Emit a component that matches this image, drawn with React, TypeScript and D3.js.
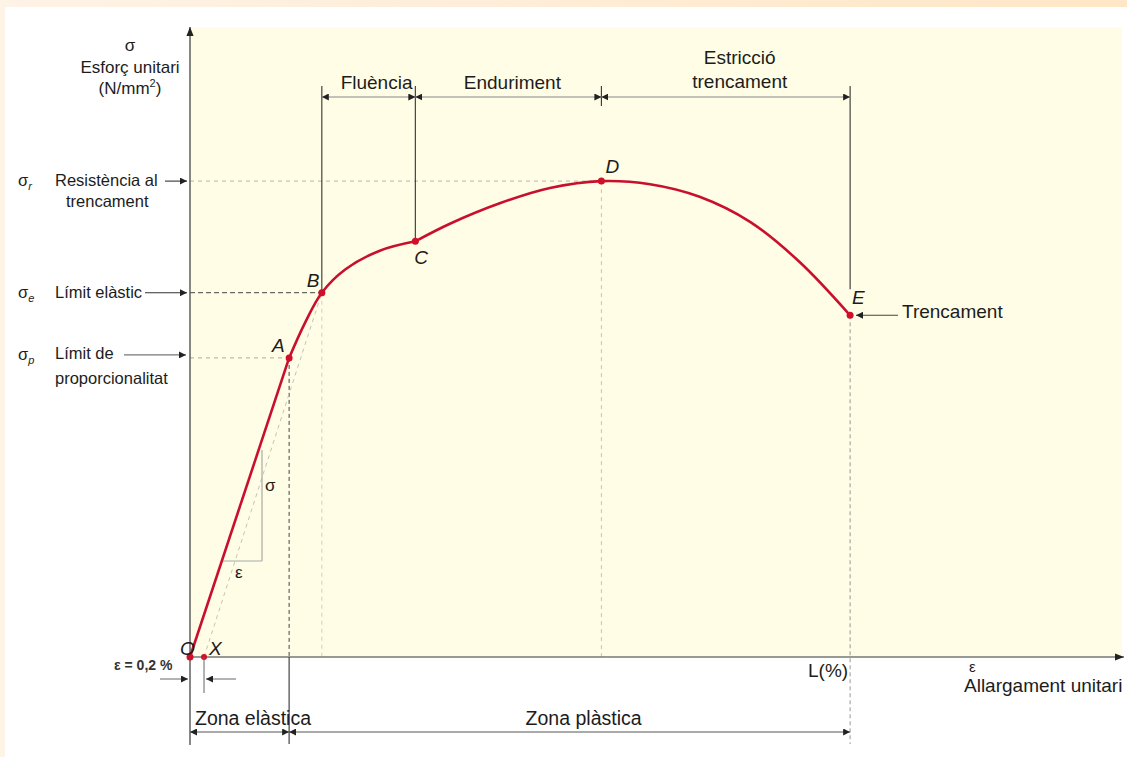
import * as d3 from 'd3';

// stress–strain curve (arbitrary units 0-100)
const strain = [0, 10.6, 12.3, 14.1, 16.6, 20.3, 24.1, 27.8, 33.2, 38.5, 44, 49.2, 54.5, 59.9, 65.2, 70.6];
const stress = [0, 47.7, 53.3, 58.1, 61.8, 64.8, 66.3, 69.1, 72.4, 74.8, 75.9, 75.4, 73.4, 69.4, 63.0, 54.5];

// named points on the curve (index into the arrays above)
const pointNames = ['O', 'A', 'B', 'C', 'D', 'E'];
const pointIdx = [0, 1, 3, 6, 10, 15];
const offsetStrain = 1.5; // X, ε = 0,2 %

const zones = ['Zona elàstica', 'Zona plàstica'];
const phases = ['Fluència', 'Enduriment', 'Estricció trencament'];

const W = 1127;
const H = 757;
const x = d3.scaleLinear().domain([0, 100]).range([190, 1125]);
const y = d3.scaleLinear().domain([0, 100]).range([657, 30]);

const FONT = '"Liberation Sans", Arial, sans-serif';
const INK = '#1c1c1c';

type P = [number, number];
const pts: P[] = strain.map((s, i) => [s, stress[i]]);

const lineStraight = d3.line<P>().x(d => x(d[0])).y(d => y(d[1]));
const lineCurve = d3.line<P>().x(d => x(d[0])).y(d => y(d[1])).curve(d3.curveCatmullRom.alpha(0.5));

export default function App() {
  const [xO, xA, xB, xC, xD, xE] = pointIdx.map(i => x(strain[i]));
  const [, yA, yB, yC, yD, yE] = pointIdx.map(i => y(stress[i]));
  const y0 = y(0);
  const xX = x(offsetStrain);
  const topY = 97;
  const botY = 732;

  const labelOffsets: Record<string, P> = {
    O: [-10, -2], A: [-17, -6], B: [-15, -6], C: [-1, 23], D: [4, -8], E: [2, -11],
  };

  return (
    <svg width={W} height={H} style={{ position: 'absolute', left: 0, top: 0 }} fontFamily={FONT}>
      <defs>
        <linearGradient id="frame" x1="0" x2="1" y1="0" y2="0">
          <stop offset="0" stopColor="#fdf3e6" />
          <stop offset="1" stopColor="#ffe6c6" />
        </linearGradient>
        <marker id="ah" viewBox="0 0 10 10" refX="10" refY="5" markerWidth="7" markerHeight="7"
          markerUnits="userSpaceOnUse" orient="auto-start-reverse">
          <path d="M0,0L10,5L0,10z" fill="#222" />
        </marker>
        <marker id="axh" viewBox="0 0 10 10" refX="10" refY="5" markerWidth="9" markerHeight="9"
          markerUnits="userSpaceOnUse" orient="auto">
          <path d="M0,1L10,5L0,9z" fill="#222" />
        </marker>
      </defs>

      <rect width={W} height={H} fill="url(#frame)" />
      <rect x={5} y={7} width={W - 5} height={H - 7} fill="#ffffff" />
      <rect x={190} y={27} width={932} height={y0 - 27} fill="#fffde6" />

      {/* guide lines */}
      <g fill="none">
        <line x1={xO} x2={xD} y1={yD} y2={yD} stroke="#b5b5a5" strokeDasharray="4 4" />
        <line x1={xO} x2={xB} y1={yB} y2={yB} stroke="#444" strokeDasharray="5 3" />
        <line x1={xO} x2={xA} y1={yA} y2={yA} stroke="#aaa" strokeDasharray="4 4" />
        <line x1={xA} x2={xA} y1={yA} y2={y0} stroke="#444" strokeDasharray="4 3" />
        <line x1={xB} x2={xB} y1={yB} y2={y0} stroke="#d0d0c0" strokeDasharray="4 4" />
        <line x1={xD} x2={xD} y1={yD} y2={y0} stroke="#c8c8b8" strokeDasharray="4 4" />
        <line x1={xE} x2={xE} y1={yE} y2={botY + 12} stroke="#999" strokeDasharray="4 3" />
        <line x1={xX} x2={xB} y1={y0} y2={yB} stroke="#c4c4b4" strokeDasharray="4 4" />
        {/* slope triangle */}
        <line x1={262} x2={262} y1={450} y2={561} stroke="#aaa" strokeWidth={1.2} />
        <line x1={222} x2={262} y1={561} y2={561} stroke="#aaa" strokeWidth={1.2} />
      </g>
      <text x={265} y={491} fontSize={17} fill={INK}>σ</text>
      <text x={235} y={578} fontSize={17} fill={INK}>ε</text>

      {/* axes */}
      <line x1={xO} x2={xO} y1={botY + 13} y2={27} stroke="#555" strokeWidth={1.4} markerEnd="url(#axh)" />
      <line x1={xO} x2={1124} y1={y0} y2={y0} stroke="#777" strokeWidth={1.4} markerEnd="url(#axh)" />

      {/* top phase brackets */}
      <g stroke="#333" strokeWidth={1.1}>
        <line x1={xB} x2={xB} y1={86} y2={yB} />
        <line x1={xC} x2={xC} y1={86} y2={yC} />
        <line x1={xD} x2={xD} y1={86} y2={106} />
        <line x1={xE} x2={xE} y1={86} y2={yE - 26} />
        <line x1={xB} x2={xC} y1={topY} y2={topY} markerStart="url(#ah)" markerEnd="url(#ah)" stroke="#888" />
        <line x1={xC} x2={xD} y1={topY} y2={topY} markerStart="url(#ah)" markerEnd="url(#ah)" stroke="#888" />
        <line x1={xD} x2={xE} y1={topY} y2={topY} markerStart="url(#ah)" markerEnd="url(#ah)" stroke="#888" />
      </g>
      <g fontSize={19} fill={INK} textAnchor="middle">
        <text x={(xB + xC) / 2 + 8} y={89}>{phases[0]}</text>
        <text x={(xC + xD) / 2 + 4} y={89}>{phases[1]}</text>
        <text x={(xD + xE) / 2 + 14} y={64}>{phases[2].split(' ')[0]}</text>
        <text x={(xD + xE) / 2 + 14} y={88}>{phases[2].split(' ')[1]}</text>
      </g>

      {/* y-axis title */}
      <g fontSize={17} fill={INK} textAnchor="middle">
        <text x={130} y={51}>σ</text>
        <text x={130} y={73}>Esforç unitari</text>
        <text x={130} y={94}>(N/mm<tspan fontSize={11} dy={-7}>2</tspan><tspan dy={7}>)</tspan></text>
      </g>

      {/* left stress labels */}
      <g fontSize={16.5} fill={INK}>
        <text x={18} y={yD + 5}>σ<tspan fontSize={11} fontStyle="italic" dy={4}>r</tspan></text>
        <text x={55} y={yD + 5}>Resistència al</text>
        <text x={66} y={yD + 26}>trencament</text>
        <text x={18} y={yB + 5}>σ<tspan fontSize={11} fontStyle="italic" dy={4}>e</tspan></text>
        <text x={55} y={yB + 5}>Límit elàstic</text>
        <text x={18} y={yA + 2}>σ<tspan fontSize={11} fontStyle="italic" dy={4}>p</tspan></text>
        <text x={55} y={yA + 1}>Límit de</text>
        <text x={55} y={yA + 26}>proporcionalitat</text>
      </g>
      <g stroke="#333" strokeWidth={1.1}>
        <line x1={165} x2={187} y1={yD} y2={yD} markerEnd="url(#ah)" />
        <line x1={145} x2={187} y1={yB} y2={yB} markerEnd="url(#ah)" />
        <line x1={124} x2={186} y1={yA - 3} y2={yA - 3} markerEnd="url(#ah)" stroke="#777" />
      </g>

      {/* curve */}
      <g fill="none" stroke="#c8102e" strokeWidth={2.6} strokeLinejoin="round">
        <path d={lineStraight(pts.slice(0, 2)) ?? ''} />
        <path d={lineCurve(pts.slice(1, 7)) ?? ''} />
        <path d={lineCurve(pts.slice(6)) ?? ''} />
      </g>
      {pointIdx.map((i, k) => (
        <circle key={k} cx={x(strain[i])} cy={y(stress[i])} r={3.5} fill="#d0102a" />
      ))}
      <circle cx={xX} cy={y0} r={3} fill="#d0102a" />
      <g fontSize={19} fontStyle="italic" fill={INK}>
        {pointIdx.map((i, k) => (
          <text key={k} x={x(strain[i]) + labelOffsets[pointNames[k]][0]} y={y(stress[i]) + labelOffsets[pointNames[k]][1]}>
            {pointNames[k]}
          </text>
        ))}
        <text x={xX + 5} y={y0 - 2}>X</text>
      </g>

      {/* trencament */}
      <line x1={898} x2={856} y1={yE} y2={yE} stroke="#444" strokeWidth={1.1} markerEnd="url(#ah)" />
      <text x={902} y={yE + 3} fontSize={19} fill={INK}>Trencament</text>

      {/* offset 0,2 % */}
      <line x1={xX} x2={xX} y1={y0} y2={693} stroke="#666" strokeWidth={1} />
      <line x1={160} x2={188} y1={679} y2={679} stroke="#666" markerEnd="url(#ah)" />
      <line x1={236} x2={206} y1={679} y2={679} stroke="#666" markerEnd="url(#ah)" />
      <text x={114} y={670} fontSize={14} fontWeight="bold" fill="#333">ε = 0,2 %</text>

      {/* L(%) and x-axis title */}
      <text x={808} y={677} fontSize={19} fill={INK}>L(%)</text>
      <text x={969} y={672} fontSize={15} fill={INK}>ε</text>
      <text x={964} y={692} fontSize={19} fill={INK}>Allargament unitari</text>

      {/* zones */}
      <line x1={xA} x2={xA} y1={y0} y2={botY + 12} stroke="#333" strokeWidth={1.1} />
      <line x1={xO} x2={xA} y1={botY} y2={botY} stroke="#555" markerStart="url(#ah)" markerEnd="url(#ah)" />
      <line x1={xA} x2={xE} y1={botY} y2={botY} stroke="#555" markerStart="url(#ah)" markerEnd="url(#ah)" />
      <g fontSize={19.5} fill={INK}>
        <text x={195} y={725}>{zones[0]}</text>
        <text x={(xA + xE) / 2 + 14} y={725} textAnchor="middle">{zones[1]}</text>
      </g>
    </svg>
  );
}
